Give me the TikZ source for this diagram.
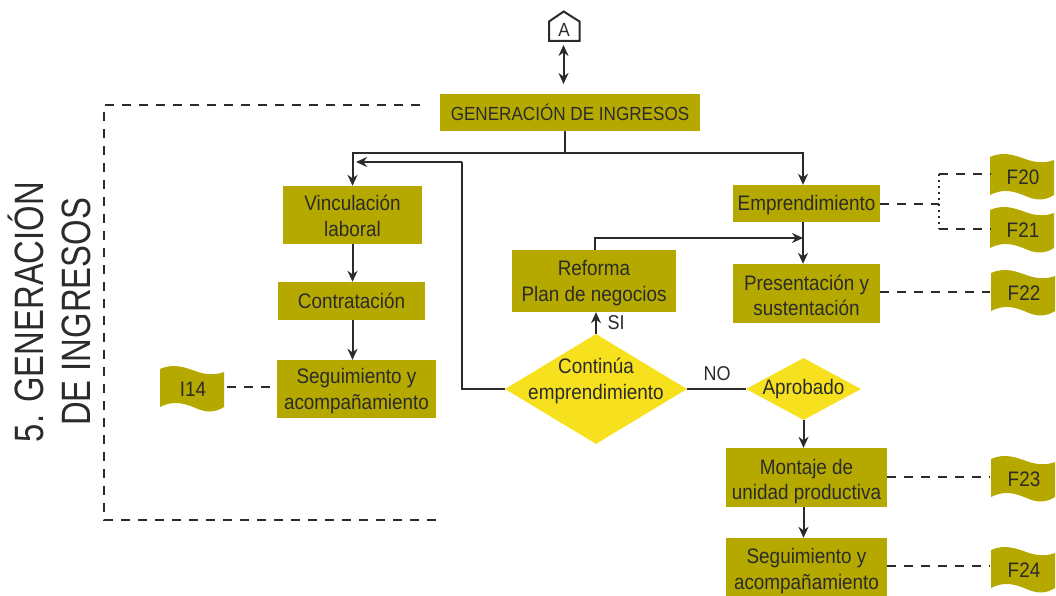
\documentclass[tikz,border=0pt]{standalone}
\usepackage{fontspec}
\setmainfont{Liberation Sans}[FakeStretch=0.8]
\newfontfamily\widefam{Liberation Sans}[FakeStretch=0.9]
\usetikzlibrary{arrows.meta,shapes.geometric,calc}
\definecolor{olive}{HTML}{B5A900}
\definecolor{yel}{HTML}{F7E11E}
\definecolor{ink}{HTML}{2B2B2B}
\newcommand{\dn}[1]{\rule{0pt}{#1pt}}
\tikzset{
  box/.style={fill=olive,text=ink,inner sep=0pt,align=center,font=\widefam\fontsize{21}{25.5}\selectfont},
  dia/.style={diamond,fill=yel,text=ink,inner sep=0pt,align=center,font=\widefam\fontsize{21}{25.5}\selectfont},
  flagtext/.style={text=ink,inner sep=0pt,font=\widefam\fontsize{21}{24}\selectfont,minimum width=64pt,minimum height=40pt},
  conn/.style={draw=ink,line width=2pt},
  arr/.style={conn,-{Stealth[length=11pt,width=10pt]}},
  dsh/.style={draw=ink,line width=2pt,dash pattern=on 9pt off 8pt},
  lbl/.style={text=ink,inner sep=0pt,font=\widefam\fontsize{20}{22}\selectfont},
  dialbl/.style={text=ink,inner sep=0pt,align=center,font=\widefam\fontsize{21}{25.5}\selectfont},
  title/.style={text=ink,inner sep=0pt,rotate=90,font=\fontsize{41}{46}\selectfont},
}
\newcommand{\flagat}[4]{%
  \fill[olive] (#2,#3+3) .. controls (#2+14,#3-3) and (#2+24,#3+1) .. (#2+38,#3+6)
     .. controls (#2+48,#3+9) and (#2+56,#3+9) .. (#2+64,#3+6)
     -- (#2+64,#3+41) .. controls (#2+56,#3+46) and (#2+48,#3+47) .. (#2+38,#3+43)
     .. controls (#2+24,#3+37) and (#2+14,#3+34) .. (#2,#3+41) -- cycle;
  \node[flagtext] (#1) at (#2+33,#3+23) {#4};}
\begin{document}
\begin{tikzpicture}[x=1pt,y=-1pt]
\useasboundingbox (0,0) rectangle (1056,596);
% boxes
\node[box,minimum width=260pt,minimum height=37pt,font=\widefam\fontsize{19}{22}\selectfont] (gen) at (570,112.5) {GENERACIÓN DE INGRESOS};
\node[box,minimum width=139pt,minimum height=58pt] (vin) at (352.5,215) {\dn{17}Vinculación\\laboral};
\node[box,minimum width=147pt,minimum height=38pt] (con) at (351.5,301) {Contratación};
\node[box,minimum width=159pt,minimum height=58pt] (seg) at (356.5,389) {\dn{19}Seguimiento y\\acompañamiento};
\node[box,minimum width=147pt,minimum height=37pt] (emp) at (806.5,203.5) {\dn{19}Emprendimiento};
\node[box,minimum width=147pt,minimum height=59pt] (pre) at (806.5,293.5) {\dn{19}Presentación y\\sustentación};
\node[box,minimum width=164pt,minimum height=62pt] (ref) at (594,281) {\dn{19}Reforma\\Plan de negocios};
\node[box,minimum width=161pt,minimum height=59pt] (mon) at (806.5,477.5) {\dn{23}Montaje de\\unidad productiva};
\node[box,minimum width=161pt,minimum height=58pt] (seb) at (806.5,567) {\dn{23}Seguimiento y\\acompañamiento};
\node[dia,minimum width=182pt,minimum height=110pt,aspect=1.65] (cont) at (596,389) {};
\node[dialbl] (contt) at (596,381) {Continúa\\emprendimiento};
\node[dia,minimum width=115pt,minimum height=62pt,aspect=1.85] (apr) at (803.5,389) {};
\node[dialbl] (aprt) at (803.5,389) {Aprobado};
% house
\node[inner sep=0pt,text=ink,font=\widefam\fontsize{19}{20}\selectfont,minimum width=30pt,minimum height=20pt] (a) at (564,30) {A};
\draw[draw=ink,line width=2pt,line join=miter] (549,21.5) -- (563.7,11.5) -- (579.5,21.5) -- (579.5,41) -- (549,41) -- cycle;
\coordinate (atop) at (563.5,45);
\coordinate (abot) at (563.5,84);
\draw[conn,{Stealth[length=11pt,width=10pt]}-{Stealth[length=11pt,width=10pt]}] (atop) -- (abot);
% flags
\flagat{f20}{990}{154}{F20}
\flagat{f21}{990}{207}{F21}
\flagat{f22}{991}{270}{F22}
\flagat{f23}{991}{456}{F23}
\flagat{f24}{991}{547}{F24}
\flagat{i14}{160}{366}{I14}
% connectors
\coordinate (j) at (565,153);
\coordinate (ej) at (803,238);
\draw[conn] (gen.south -| j) -- (j);
\draw[arr] (j) -| (vin.north);
\draw[arr] (j) -| (ej |- emp.north);
\draw[arr] (vin.south) -- (con.north -| vin.south);
\draw[arr] (con.south -| vin.south) -- (seg.north -| vin.south);
\coordinate (bk) at (462,162);
\coordinate (bktip) at (356,162);
\draw[conn] (cont.west) -- (cont.west -| bk) -- (bk);
\draw[arr] (bk) -- (bktip);
\draw[arr] (cont.north) -- (ref.south -| cont.north);
\coordinate (rj) at (595,238);
\draw[arr] (ref.north -| rj) -- (rj) -- (ej);
\draw[arr] (emp.south -| ej) -- (pre.north -| ej);
\draw[conn] (cont.east) -- (apr.west);
\draw[arr] (apr.south) -- (mon.north -| apr.south);
\draw[arr] (mon.south -| apr.south) -- (seb.north -| apr.south);
% dashed
\coordinate (e1) at (939,204);
\coordinate (e2) at (939,174);
\coordinate (e3) at (939,229);
\draw[dsh] (emp.east |- e1) -- (e1);
\draw[draw=ink,line width=2pt,dash pattern=on 2pt off 4pt] (e2) -- (e3);
\draw[dsh] (e2) -- (f20.west |- e2);
\draw[dsh] (e3) -- (f21.west |- e3);
\coordinate (p22) at (990,292);
\draw[dsh] (pre.east |- p22) -- (p22);
\coordinate (p23) at (990,477);
\draw[dsh] (mon.east |- p23) -- (p23);
\coordinate (p24) at (990,566);
\draw[dsh] (seb.east |- p24) -- (p24);
\coordinate (p14) at (227,387);
\draw[dsh] (p14) -- (seg.west |- p14);
\coordinate (fa) at (420,105);
\coordinate (fb) at (104,105);
\coordinate (fc) at (104,520);
\coordinate (fd) at (440,520);
\draw[dsh] (fa) -- (fb) -- (fc) -- (fd);
% labels
\node[lbl] (si) at (616,323) {SI};
\node[lbl] (no) at (717,374) {NO};
\node[title] (t1) at (26,312) {5. GENERACIÓN};
\node[title] (t2) at (76,312) {DE INGRESOS};
\end{tikzpicture}
\end{document}
